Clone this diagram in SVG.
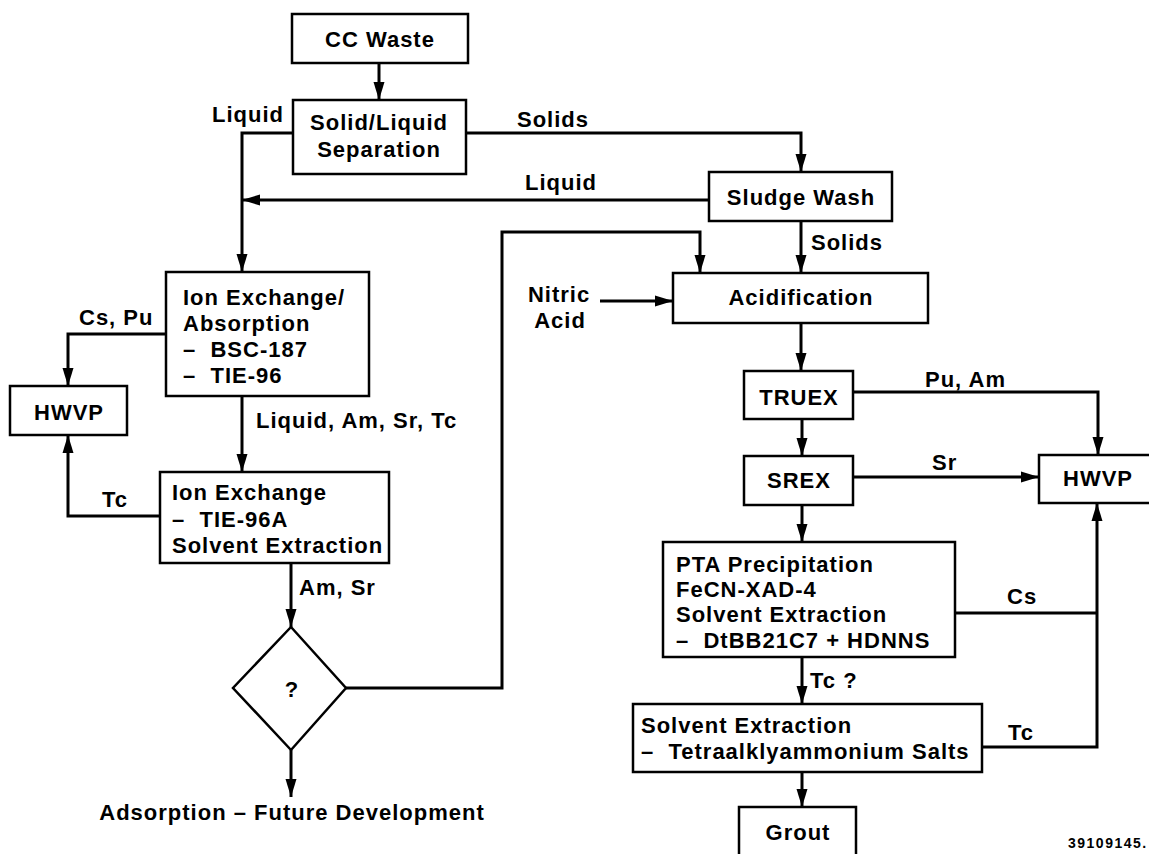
<svg xmlns="http://www.w3.org/2000/svg" width="1149" height="854" viewBox="0 0 1149 854">
<style>
.b{fill:#fff;stroke:#000;stroke-width:2.5}
.t{font-family:"Liberation Sans",Arial,sans-serif;font-weight:bold;font-size:22px;letter-spacing:1px;fill:#000;white-space:pre}
.m{text-anchor:middle}
.c{fill:none;stroke:#000;stroke-width:3}
.s{font-size:14px;letter-spacing:1.5px}
</style>
<defs>
<marker id="ah" markerUnits="userSpaceOnUse" markerWidth="18" markerHeight="12" refX="18" refY="6" orient="auto">
<path d="M0,0.5 L18,6 L0,11.5 z" fill="#000"/>
</marker>
</defs>
<rect width="1149" height="854" fill="#fff"/>
<g id="connectors">
<path class="c" d="M379,63 V100" marker-end="url(#ah)"/>
<path class="c" d="M293,133 H242 V272" marker-end="url(#ah)"/>
<path class="c" d="M466,133 H801 V172" marker-end="url(#ah)"/>
<path class="c" d="M709,200 H242" marker-end="url(#ah)"/>
<path class="c" d="M166,334 H68 V386" marker-end="url(#ah)"/>
<path class="c" d="M242,396 V472" marker-end="url(#ah)"/>
<path class="c" d="M160,516 H68 V435" marker-end="url(#ah)"/>
<path class="c" d="M291,563 V627" marker-end="url(#ah)"/>
<path class="c" d="M291,750 V797" marker-end="url(#ah)"/>
<path class="c" d="M346,688 H502 V232 H700 V273" marker-end="url(#ah)"/>
<path class="c" d="M600,301 H673" marker-end="url(#ah)"/>
<path class="c" d="M801,221 V273" marker-end="url(#ah)"/>
<path class="c" d="M801,323 V371" marker-end="url(#ah)"/>
<path class="c" d="M853,392 H1098 V455" marker-end="url(#ah)"/>
<path class="c" d="M802,419 V456" marker-end="url(#ah)"/>
<path class="c" d="M853,477 H1039" marker-end="url(#ah)"/>
<path class="c" d="M802,505 V542" marker-end="url(#ah)"/>
<path class="c" d="M955,613 H1097"/>
<path class="c" d="M802,657 V704" marker-end="url(#ah)"/>
<path class="c" d="M982,747 H1097 V503" marker-end="url(#ah)"/>
<path class="c" d="M802,772 V807" marker-end="url(#ah)"/>
</g>
<g id="labels">
<text class="t" x="212" y="122">Liquid</text>
<text class="t" x="517" y="127">Solids</text>
<text class="t" x="525" y="190">Liquid</text>
<text class="t" x="79" y="325">Cs, Pu</text>
<text class="t" x="256" y="428">Liquid, Am, Sr, Tc</text>
<text class="t" x="102" y="507">Tc</text>
<text class="t" x="299" y="595">Am, Sr</text>
<text class="t m" x="292" y="820">Adsorption – Future Development</text>
<text class="t" x="811" y="250">Solids</text>
<text class="t m" x="559" y="302">Nitric</text>
<text class="t m" x="560" y="328">Acid</text>
<text class="t" x="925" y="387">Pu, Am</text>
<text class="t" x="932" y="470">Sr</text>
<text class="t" x="1007" y="604">Cs</text>
<text class="t" x="810" y="688">Tc ?</text>
<text class="t" x="1008" y="740">Tc</text>
<text class="t s" x="1068" y="848">39109145.</text>
</g>
<g id="cc-waste">
<rect class="b" x="292" y="14" width="176" height="49"/>
<text class="t m" x="380" y="47">CC Waste</text>
</g>
<g id="separation">
<rect class="b" x="293" y="100" width="173" height="74"/>
<text class="t m" x="379" y="130">Solid/Liquid</text>
<text class="t m" x="379" y="157">Separation</text>
</g>
<g id="sludge-wash">
<rect class="b" x="709" y="172" width="183" height="49"/>
<text class="t m" x="801" y="205">Sludge Wash</text>
</g>
<g id="ion-exchange-1">
<rect class="b" x="166" y="272" width="203" height="124"/>
<text class="t" x="183" y="305">Ion Exchange/</text>
<text class="t" x="183" y="331">Absorption</text>
<text class="t" x="183" y="357">–  BSC-187</text>
<text class="t" x="183" y="383">–  TIE-96</text>
</g>
<g id="hwvp-left">
<rect class="b" x="10" y="386" width="117" height="49"/>
<text class="t m" x="69" y="420">HWVP</text>
</g>
<g id="ion-exchange-2">
<rect class="b" x="160" y="472" width="229" height="91"/>
<text class="t" x="172" y="500">Ion Exchange</text>
<text class="t" x="172" y="527">–  TIE-96A</text>
<text class="t" x="172" y="553">Solvent Extraction</text>
</g>
<g id="decision">
<polygon class="b" points="291,627 346,688 291,750 233,688"/>
<text class="t m" x="292" y="697">?</text>
</g>
<g id="acidification">
<rect class="b" x="673" y="273" width="255" height="50"/>
<text class="t m" x="801" y="305">Acidification</text>
</g>
<g id="truex">
<rect class="b" x="744" y="371" width="109" height="48"/>
<text class="t m" x="799" y="405">TRUEX</text>
</g>
<g id="srex">
<rect class="b" x="744" y="456" width="109" height="49"/>
<text class="t m" x="799" y="488">SREX</text>
</g>
<g id="hwvp-right">
<rect class="b" x="1039" y="455" width="118" height="48"/>
<text class="t m" x="1098" y="486">HWVP</text>
</g>
<g id="pta">
<rect class="b" x="663" y="542" width="292" height="115"/>
<text class="t" x="676" y="572">PTA Precipitation</text>
<text class="t" x="676" y="597">FeCN-XAD-4</text>
<text class="t" x="676" y="622">Solvent Extraction</text>
<text class="t" x="676" y="648">–  DtBB21C7 + HDNNS</text>
</g>
<g id="solvent-extraction">
<rect class="b" x="633" y="704" width="349" height="68"/>
<text class="t" x="641" y="733">Solvent Extraction</text>
<text class="t" x="641" y="759">–  Tetraalklyammonium Salts</text>
</g>
<g id="grout">
<rect class="b" x="739" y="807" width="117" height="60"/>
<text class="t m" x="798" y="840">Grout</text>
</g>
</svg>
